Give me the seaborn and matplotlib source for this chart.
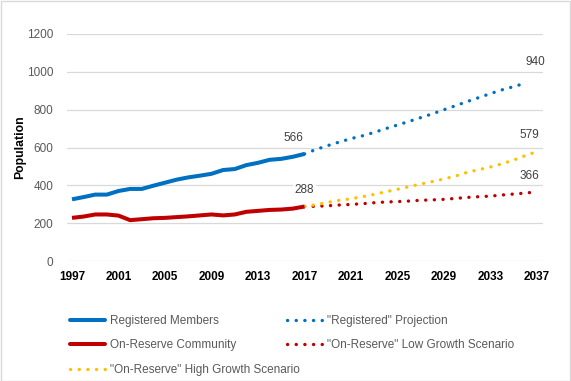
import matplotlib
matplotlib.use("Agg")
import matplotlib.pyplot as plt
import seaborn as sns
import pandas as pd
from matplotlib.patches import Rectangle
from matplotlib.lines import Line2D

# ---- data ----
hist_years = [1997, 1998, 1999, 2000, 2001, 2002, 2003, 2004, 2005, 2006, 2007,
              2008, 2009, 2010, 2011, 2012, 2013, 2014, 2015, 2016, 2017]
registered = [326, 338, 351, 351, 370, 381, 381, 398, 414, 430, 442,
              451, 461, 481, 486, 507, 519, 535, 540, 551, 566]
on_reserve = [228, 235, 246, 246, 240, 216, 221, 226, 228, 232, 236,
              241, 246, 241, 246, 260, 265, 270, 272, 277, 288]

proj_years_reg = [2017, 2018, 2019, 2020, 2021, 2022, 2023, 2024, 2025, 2026,
                  2027, 2028, 2029, 2030, 2031, 2032, 2033, 2034, 2035, 2036]
registered_proj = [566, 590, 610, 629, 647, 662, 680, 700, 719, 738,
                   758, 778, 800, 821, 843, 864, 885, 905, 922, 940]

proj_years = [2017, 2018, 2019, 2020, 2021, 2022, 2023, 2024, 2025, 2026, 2027,
              2028, 2029, 2030, 2031, 2032, 2033, 2034, 2035, 2036, 2037]
low_growth = [288, 289, 292, 296, 299, 303, 308, 312, 314, 317, 321,
              323, 326, 331, 336, 340, 343, 349, 354, 359, 366]
high_growth = [288, 298, 310, 321, 329, 340, 352, 366, 379, 393, 407,
               420, 434, 449, 469, 483, 497, 514, 534, 557, 579]

x_ticks = [1997, 2001, 2005, 2009, 2013, 2017, 2021, 2025, 2029, 2033, 2037]
y_ticks = [0, 200, 400, 600, 800, 1000, 1200]

labels = ["Registered Members", "\"Registered\" Projection", "On-Reserve Community",
          "\"On-Reserve\" Low Growth Scenario", "\"On-Reserve\" High Growth Scenario"]

BLUE = "#0070C0"
RED = "#C00000"
YELLOW = "#FFC000"
GREY_TXT = "#595959"

sns.set_theme(style="white")
plt.rcParams['font.family'] = ['Liberation Sans', 'DejaVu Sans']

fig = plt.figure(figsize=(5.71, 3.81), dpi=100)
ax = fig.add_axes([67 / 571, 1 - 261 / 381, 476 / 571, 227 / 381])

df_hist = pd.DataFrame({"year": hist_years, "reg": registered, "res": on_reserve})
df_reg = pd.DataFrame({"year": proj_years_reg, "v": registered_proj})
df_proj = pd.DataFrame({"year": proj_years, "low": low_growth, "high": high_growth})

dot = (0, (0.05, 2.55))
dot_kw = dict(linewidth=2.4, dash_capstyle="round", solid_capstyle="round")

sns.lineplot(data=df_proj, x="year", y="low", ax=ax, color=RED, linestyle=dot, **dot_kw)
sns.lineplot(data=df_proj, x="year", y="high", ax=ax, color=YELLOW, linestyle=dot, **dot_kw)
sns.lineplot(data=df_reg, x="year", y="v", ax=ax, color=BLUE, linestyle=dot, **dot_kw)
sns.lineplot(data=df_hist, x="year", y="reg", ax=ax, color=BLUE, linewidth=2.9,
             solid_capstyle="butt")
sns.lineplot(data=df_hist, x="year", y="res", ax=ax, color=RED, linewidth=2.9,
             solid_capstyle="butt")

ax.set_xlim(1997 - 5 / 11.625, 2037 + 6 / 11.625)
ax.set_ylim(0, 1200)
ax.set_xticks(x_ticks)
ax.set_xticklabels([str(t) for t in x_ticks], fontweight="bold", fontsize=8.5, color="black")
ax.set_yticks(y_ticks)
ax.set_yticklabels([str(t) for t in y_ticks], fontsize=8.5, color=GREY_TXT)
ax.tick_params(axis="both", length=0)
ax.tick_params(axis="x", pad=7)
ax.tick_params(axis="y", pad=10)
ax.grid(axis="y", color="#D9D9D9", linewidth=0.9)
ax.set_axisbelow(True)
for s in ax.spines.values():
    s.set_visible(False)
ax.set_xlabel("")
ax.set_ylabel("")
fig.text(20 / 571, 1 - 147 / 381, "Population", rotation=90, ha="center", va="center",
         fontsize=8.8, fontweight="bold", color="black")

# data labels
lab_kw = dict(textcoords="offset pixels", ha="center", va="center", fontsize=8.5,
              color="#404040", bbox=dict(boxstyle="square,pad=0.15", fc="white", ec="none"))
ax.annotate(str(registered[-1]), (hist_years[-1], registered[-1]), xytext=(-11, 16), **lab_kw)
ax.annotate(str(on_reserve[-1]), (hist_years[-1], on_reserve[-1]), xytext=(0, 17), **lab_kw)
ax.annotate(str(registered_proj[-1]), (proj_years_reg[-1], registered_proj[-1]), xytext=(10, 21), **lab_kw)
ax.annotate(str(high_growth[-1]), (proj_years[-1], high_growth[-1]), xytext=(-8, 16), **lab_kw)
ax.annotate(str(low_growth[-1]), (proj_years[-1], low_growth[-1]), xytext=(-8, 16), **lab_kw)

# legends
def solid(c):
    return Line2D([], [], color=c, linewidth=2.9, solid_capstyle="round")

def dotted(c):
    return Line2D([], [], color=c, linestyle=dot, linewidth=2.4, dash_capstyle="round")

leg_kw = dict(loc="upper left", frameon=False, fontsize=8.5, handlelength=3.0,
              handletextpad=0.35, labelspacing=1.05, borderpad=0, borderaxespad=0,
              labelcolor=GREY_TXT)
fig.legend([solid(BLUE), solid(RED), dotted(YELLOW)],
           [labels[0], labels[2], labels[4]],
           bbox_to_anchor=(70 / 571, 1 - 315 / 381), **leg_kw)
fig.legend([dotted(BLUE), dotted(RED)],
           [labels[1], labels[3]],
           bbox_to_anchor=(287 / 571, 1 - 315 / 381), **leg_kw)

# chart border
fig.add_artist(Rectangle((0.5 / 571, 0.5 / 381), 1 - 1.5 / 571, 1 - 1.5 / 381,
                         transform=fig.transFigure, fill=False, ec="#D9D9D9", lw=1))

fig.savefig("out.png", dpi=100)
